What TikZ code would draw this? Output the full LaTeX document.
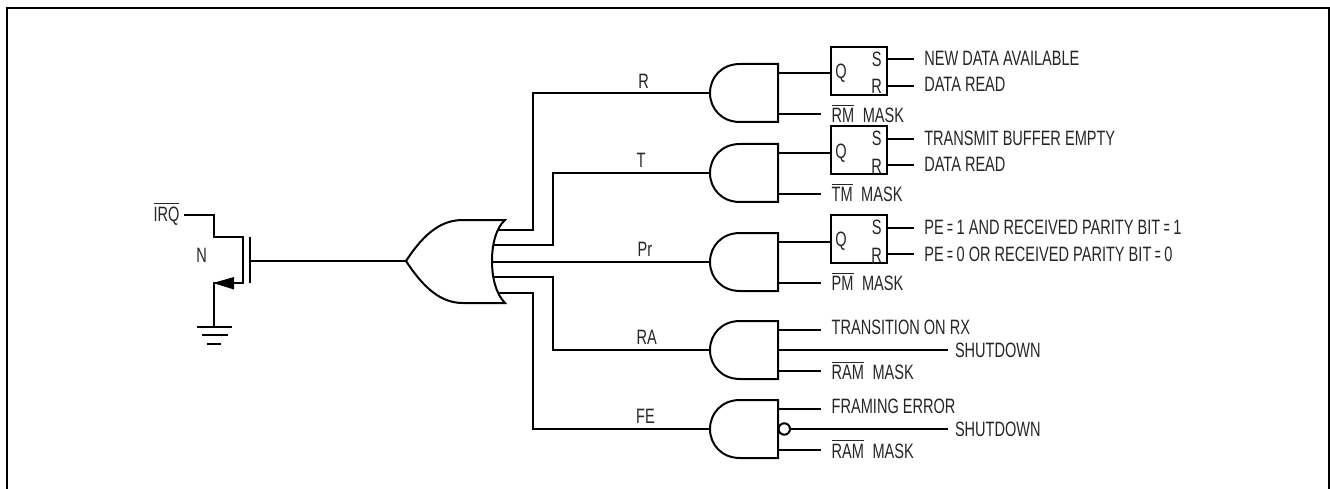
\documentclass[tikz,border=0pt]{standalone}
\usepackage{graphicx}
\usepackage{fontspec}
\setmainfont[FakeStretch=0.70]{Liberation Sans}
\newcommand{\ovl}[1]{\vbox{\hrule height 1pt \kern 2.6pt \hbox{#1}}}
\newcommand{\eqq}{\hspace{3.5pt}\scalebox{0.7}[1]{=}\hspace{3.5pt}}
\tikzset{
  wire/.style={line width=2pt,line join=miter,line cap=butt},
  txt/.style={inner sep=0pt,outer sep=0pt,font=\fontsize{20.8}{24}\selectfont,text=black!85,yshift=-0.6pt},
  lbl/.style={txt,anchor=base west},
  mid/.style={txt,anchor=base},
  ffbox/.style={draw,line width=2pt,minimum width=55.5pt,minimum height=48.3pt,inner sep=0pt,outer sep=0pt},
  andg/.pic={
    \draw[wire] (-38,-29) .. controls (-56,-29) and (-68,-16) .. (-68,0)
       .. controls (-68,16) and (-56,29) .. (-38,29) -- (0,29) -- (0,-29) -- cycle;
    \coordinate (-ip) at (-68,0);
    \coordinate (-ou) at (0,-20);
    \coordinate (-om) at (0,0);
    \coordinate (-ol) at (0,21);
  }
}
\begin{document}
\begin{tikzpicture}[x=1pt,y=-1pt]
\useasboundingbox (0,0) rectangle (1330,489);
% frame
\draw[line width=2.4pt] (7,489) -- (7,8) -- (1329,8) -- (1329,489);

% gates
\pic (g1) at (778,93) {andg};
\pic (g2) at (778,173) {andg};
\pic (g3) at (778,262) {andg};
\pic (g4) at (778,350) {andg};
\pic (g5) at (778,429) {andg};

% OR gate
\draw[wire,fill=white] (406,261) .. controls (425,232) and (442,220) .. (463,220) -- (505,220)
   .. controls (496,228) and (492,244) .. (492,261)
   .. controls (492,278) and (496,294) .. (505,303) -- (463,303)
   .. controls (442,303) and (425,290) .. (406,261) -- cycle;
\coordinate (orin) at (406,261);
\coordinate (o1) at (498,230);
\coordinate (o2) at (494,245);
\coordinate (o3) at (492,262);
\coordinate (o4) at (494,277);
\coordinate (o5) at (498,293);

% OR outputs to AND gates
\draw[wire] (o1) -- (533,230) -- (533,93) -- (g1-ip);
\draw[wire] (o2) -- (553,245) -- (553,173) -- (g2-ip);
\draw[wire] (o3) -- (g3-ip);
\draw[wire] (o4) -- (553,277) -- (553,350) -- (g4-ip);
\draw[wire] (o5) -- (533,293) -- (533,429) -- (g5-ip);

% signal labels
\node[mid] (lr) at (643.7,87.5) {R};
\node[mid] (lt) at (641,166.5) {T};
\node[mid] (lp) at (645,255.5) {Pr};
\node[mid] (lra) at (646.7,344) {RA};
\node[mid] (lfe) at (645.5,423) {FE};

% flip-flops
\node[ffbox] (f1) at (859,71) {};
\node[ffbox] (f2) at (859,150) {};
\node[ffbox] (f3) at (859,239) {};
\draw[wire] (g1-ou) -- (g1-ou -| f1.west);
\draw[wire] (g2-ou) -- (g2-ou -| f2.west);
\draw[wire] (g3-ou) -- (g3-ou -| f3.west);
\node[mid] (q1) at (841,78) {Q};
\node[mid] (q2) at (841,157.7) {Q};
\node[mid] (q3) at (841,246.3) {Q};
\node[mid] (s1) at (876.7,66) {S};
\node[mid] (r1) at (876.7,93) {R};
\node[mid] (s2) at (876.7,145) {S};
\node[mid] (r2) at (876.7,172.7) {R};
\node[mid] (s3) at (876.7,234) {S};
\node[mid] (r3) at (876.7,261.7) {R};
\coordinate (es1) at (914,59);
\coordinate (er1) at (914,86);
\coordinate (es2) at (914,139);
\coordinate (er2) at (914,165);
\coordinate (es3) at (914,228);
\coordinate (er3) at (914,254);
\draw[wire] (es1 -| f1.east) -- (es1);
\draw[wire] (er1 -| f1.east) -- (er1);
\draw[wire] (es2 -| f2.east) -- (es2);
\draw[wire] (er2 -| f2.east) -- (er2);
\draw[wire] (es3 -| f3.east) -- (es3);
\draw[wire] (er3 -| f3.east) -- (er3);
\node[lbl] (t1) at (924.3,65) {NEW DATA AVAILABLE};
\node[lbl] (t2) at (924.3,91.3) {DATA READ};
\node[lbl] (t3) at (924.3,145) {TRANSMIT BUFFER EMPTY};
\node[lbl] (t4) at (924.3,171) {DATA READ};
\node[lbl] (t5) at (924.3,233.8) {PE\eqq 1 AND RECEIVED PARITY BIT\eqq 1};
\node[lbl] (t6) at (924.3,261.2) {PE\eqq 0 OR RECEIVED PARITY BIT\eqq 0};

% mask inputs
\coordinate (em1) at (821,114);
\coordinate (em2) at (821,194);
\coordinate (em3) at (821,283);
\coordinate (em4) at (821,371);
\coordinate (em5) at (821,450);
\draw[wire] (g1-ol) -- (em1);
\draw[wire] (g2-ol) -- (em2);
\draw[wire] (g3-ol) -- (em3);
\draw[wire] (g4-ol) -- (em4);
\draw[wire] (g5-ol) -- (em5);
\node[lbl] (m1) at (831.7,122) {\ovl{RM}\hspace{8.5pt}MASK};
\node[lbl] (m2) at (831.7,201) {\ovl{TM}\hspace{8.5pt}MASK};
\node[lbl] (m3) at (831.7,290) {\ovl{PM}\hspace{8.5pt}MASK};
\node[lbl] (m4) at (831.7,379) {\ovl{RAM}\hspace{8.5pt}MASK};
\node[lbl] (m5) at (831.7,457.7) {\ovl{RAM}\hspace{8.5pt}MASK};

% RA gate extras
\coordinate (eu4) at (821,330);
\coordinate (esd4) at (948,350);
\draw[wire] (g4-ou) -- (eu4);
\draw[wire] (g4-om) -- (esd4);
\node[lbl] (t7) at (831.7,334) {TRANSITION ON RX};
\node[lbl] (t8) at (955,357.3) {SHUTDOWN};

% FE gate extras
\coordinate (eu5) at (821,409);
\coordinate (esd5) at (948,429);
\node[circle,draw,line width=2pt,minimum size=11.4pt,inner sep=0pt,outer sep=0pt,fill=white] (bub) at (784.3,429) {};
\draw[wire] (g5-ou) -- (eu5);
\draw[wire] (bub.east) -- (esd5);
\node[lbl] (t9) at (831.7,413.3) {FRAMING ERROR};
\node[lbl] (t10) at (955,436) {SHUTDOWN};

% FET
\node[lbl] (irq) at (153.5,220.5) {\ovl{IRQ}};
\node[mid] (nn) at (201.7,262.3) {N};
\coordinate (ir) at (184,215);
\coordinate (dr) at (243,237);
\coordinate (sr) at (243,283);
\coordinate (gt) at (250,237);
\coordinate (gb) at (250,283);
\coordinate (gm) at (250,261);
\coordinate (gnd) at (214,327);
\draw[wire] (ir) -- (214,215) -- (214,237) -- (dr) -- (sr) -- (gnd |- sr) -- (gnd);
\draw[wire] (gt) -- (gb);
\draw[wire] (gm) -- (orin);
\fill (213,283) -- (234,277) -- (234,289.5) -- cycle;
\coordinate (g1l) at (197,327);
\coordinate (g1r) at (232,327);
\coordinate (g2l) at (202,335);
\coordinate (g2r) at (228,335);
\coordinate (g3l) at (207,344);
\coordinate (g3r) at (221,344);
\draw[wire] (g1l) -- (g1r);
\draw[wire] (g2l) -- (g2r);
\draw[wire] (g3l) -- (g3r);
\end{tikzpicture}
\end{document}
